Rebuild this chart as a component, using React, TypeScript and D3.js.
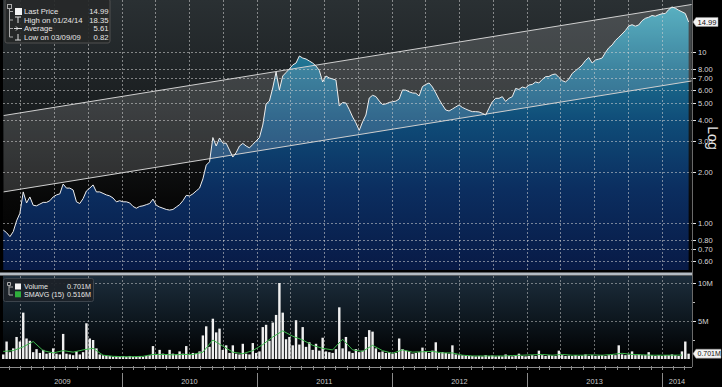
import { useEffect, useRef } from 'react'
import * as d3 from 'd3'

// price / volume sampled every 9 calendar days, starting 2009-02-14
const sampleStart = new Date(2009, 1, 14)
const sampleStepDays = 9
// the SMAVG line is read every 27 days from the same start
const smaStepDays = 27

const prices = [
  0.91, 0.878, 0.832, 0.89, 1.03, 1.14, 1.52, 1.31, 1.42, 1.27,
  1.26, 1.29, 1.32, 1.32, 1.35, 1.42, 1.46, 1.48, 1.69, 1.6,
  1.6, 1.56, 1.33, 1.3, 1.39, 1.54, 1.6, 1.67, 1.52, 1.52,
  1.49, 1.46, 1.44, 1.4, 1.33, 1.35, 1.33, 1.33, 1.31, 1.25,
  1.22, 1.25, 1.26, 1.28, 1.3, 1.38, 1.27, 1.24, 1.22, 1.2,
  1.19, 1.2, 1.24, 1.28, 1.35, 1.45, 1.44, 1.48, 1.54, 1.6,
  1.81, 2.18, 2.28, 3.16, 2.82, 3.14, 2.93, 2.93, 2.67, 2.43,
  2.58, 2.82, 2.92, 2.82, 2.75, 2.88, 3.02, 3.16, 3.74, 4.97,
  5.17, 6.16, 7.64, 6.0, 7.24, 7.59, 7.96, 8.4, 8.62, 9.48,
  9.22, 9.1, 8.86, 8.62, 8.28, 7.8, 6.68, 7.24, 7.05, 6.95,
  6.86, 4.83, 5.07, 5.03, 4.61, 4.17, 3.85, 3.48, 3.9, 4.28,
  5.38, 5.58, 5.49, 5.17, 4.93, 4.97, 5.07, 5.12, 5.16, 5.31,
  6.0, 5.98, 5.85, 5.76, 5.74, 5.53, 6.28, 6.46, 6.59, 6.24,
  5.76, 5.28, 4.9, 4.58, 4.52, 4.64, 4.77, 4.9, 4.74, 4.64,
  4.55, 4.48, 4.48, 4.46, 4.38, 4.28, 4.69, 5.12, 5.36, 5.36,
  5.48, 5.14, 5.36, 5.48, 6.12, 6.04, 6.24, 6.16, 6.41, 6.46,
  6.68, 6.59, 6.91, 7.17, 7.19, 7.37, 7.44, 7.11, 6.8, 6.68,
  6.95, 7.49, 7.78, 8.06, 8.4, 8.92, 9.29, 8.62, 8.98, 9.08,
  9.22, 9.93, 10.58, 10.99, 11.68, 12.19, 12.74, 13.36, 14.19, 14.44,
  14.16, 14.39, 15.24, 15.74, 15.96, 16.35, 16.19, 16.5, 16.73, 16.8,
  17.7, 18.35, 18.04, 17.56, 17.18, 16.8, 14.99,
]

// millions of shares
const volumes = [
  0.6, 2.3, 0.9, 1.4, 2.9, 2.3, 6.1, 2.7, 2.4, 0.9,
  1.3, 0.8, 1.2, 0.7, 0.8, 1.4, 0.7, 0.6, 3.3, 0.7,
  0.6, 0.5, 1.0, 0.6, 0.9, 4.7, 2.7, 2.5, 1.4, 0.6,
  0.5, 0.4, 0.4, 0.3, 0.4, 0.3, 0.4, 0.3, 0.4, 0.3,
  0.3, 0.4, 0.3, 0.4, 0.5, 1.7, 0.6, 1.2, 0.7, 0.6,
  1.2, 0.7, 0.6, 1.0, 0.7, 1.7, 0.6, 0.8, 0.7, 1.0,
  3.1, 4.3, 1.6, 5.3, 3.5, 4.0, 1.2, 1.8, 0.8, 1.8,
  0.7, 0.6, 2.0, 0.7, 0.6, 2.1, 0.8, 1.0, 4.2, 4.5,
  2.4, 4.8, 5.8, 10.0, 6.1, 2.6, 2.9, 1.8, 5.1, 1.9,
  4.2, 1.6, 2.2, 1.2, 2.0, 1.1, 2.8, 1.0, 0.9, 0.8,
  1.3, 6.8, 1.4, 2.9, 1.0, 0.8, 1.3, 0.9, 1.1, 2.9,
  3.8, 3.6, 1.4, 0.9, 1.0, 0.8, 0.9, 0.7, 0.8, 2.7,
  1.3, 1.1, 1.0, 0.7, 0.8, 0.9, 1.5, 1.0, 0.8, 1.1,
  2.2, 0.8, 0.9, 0.8, 0.7, 1.8, 0.6, 0.5, 0.5, 0.4,
  0.4, 0.4, 0.35, 0.4, 0.35, 0.5, 0.4, 0.45, 0.35, 0.4,
  0.35, 0.6, 0.4, 0.35, 0.4, 0.7, 0.4, 0.35, 0.4, 0.5,
  0.4, 1.1, 0.5, 0.4, 0.5, 0.45, 0.4, 1.1, 0.5, 0.4,
  0.45, 0.4, 0.5, 0.4, 0.45, 0.6, 0.4, 0.5, 0.4, 0.45,
  0.5, 0.4, 0.5, 0.6, 0.5, 1.8, 0.6, 0.5, 0.6, 1.0,
  0.5, 0.6, 0.5, 0.5, 0.9, 0.5, 0.4, 0.5, 0.4, 0.5,
  0.5, 0.6, 0.5, 0.4, 1.0, 2.3, 0.701,
]

// SMAVG (15) in millions, every 27 days
const smavg = [
  1.0, 1.1, 1.6, 2.3, 1.1, 0.8, 1.1, 0.9, 1.2, 1.4,
  0.5, 0.35, 0.3, 0.3, 0.35, 0.6, 0.6, 0.55, 0.6, 0.6,
  0.9, 2.5, 1.7, 0.9, 0.7, 1.1, 1.9, 2.9, 3.7, 3.0,
  2.5, 1.8, 1.4, 1.2, 2.6, 1.2, 1.0, 1.8, 1.1, 0.75,
  1.2, 0.9, 0.95, 1.0, 0.8, 0.8, 0.5, 0.4, 0.4, 0.4,
  0.4, 0.45, 0.5, 0.55, 0.6, 0.5, 0.6, 0.5, 0.5, 0.55,
  0.5, 0.6, 0.75, 0.6, 0.55, 0.5, 0.5, 0.5, 0.516,
]

// trend channel drawn on the log chart
const channelDates = [new Date(2009, 1, 15), new Date(2014, 2, 22)]
const channelUpper = [4.25, 18.96]
const channelLower = [1.52, 6.77]

const priceTicks = [0.6, 0.7, 0.8, 1, 2, 3, 4, 5, 6, 7, 8, 10]
const volumeTicks = [5, 10]
const volumeMinorTicks = [2.5, 7.5]
const years = [2009, 2010, 2011, 2012, 2013, 2014]

const priceLegend = [
  { label: 'Last Price', value: '14.99' },
  { label: 'High on 01/24/14', value: '18.35' },
  { label: 'Average', value: '5.61' },
  { label: 'Low on 03/09/09', value: '0.82' },
]
const volumeLegend = [
  { label: 'Volume', value: '0.701M', color: '#f4f4f4' },
  { label: 'SMAVG (15)', value: '0.516M', color: '#2fae3c' },
]
const lastPrice = 14.99
const lastVolume = 0.701

const FONT = "'Liberation Sans', Arial, sans-serif"

const App = () => {
  const svgRef = useRef<SVGSVGElement | null>(null)

  useEffect(() => {
    if (!svgRef.current) return
    const svg = d3.select(svgRef.current)
    svg.selectAll('*').remove()

    const W = 722
    const H = 387
    const plotL = 3
    const plotR = 692
    const priceBottom = 270
    const volTop = 276
    const volBase = 359
    const axisY = 367

    const series = prices.map((p, i) => ({
      date: d3.timeDay.offset(sampleStart, i * sampleStepDays),
      price: p,
      volume: volumes[i],
    }))
    const smaSeries = smavg.map((v, j) => ({
      date: d3.timeDay.offset(sampleStart, j * smaStepDays),
      value: v,
    }))

    const x = d3.scaleTime()
      .domain([new Date(2009, 0, 1), new Date(2014, 0, 1)])
      .range([-13, 662])
    const yP = d3.scaleLog().domain([1, 10]).range([223, 52])
    const yV = d3.scaleLinear().domain([0, 10]).range([volBase, 283])

    svg.append('rect').attr('width', W).attr('height', H).attr('fill', '#000')

    // gradients + clip
    const defs = svg.append('defs')
    const grad = (id: string, y1: number, y2: number, stops: [number, string][]) => {
      const g = defs.append('linearGradient')
        .attr('id', id)
        .attr('gradientUnits', 'userSpaceOnUse')
        .attr('x1', 0).attr('x2', 0).attr('y1', y1).attr('y2', y2)
      stops.forEach(([o, c]) => g.append('stop').attr('offset', o).attr('stop-color', c))
    }
    grad('bgGrad', 0, priceBottom, [[0, '#2a3033'], [0.4, '#1a1e20'], [0.75, '#070707'], [1, '#000']])
    grad('areaGrad', 0, priceBottom, [[0, '#40a8ba'], [0.25, '#1d7090'], [0.45, '#0f4c78'], [0.7, '#0b2e60'], [1, '#081a46']])
    grad('volGrad', volTop, volBase, [[0, '#1c2d3b'], [0.5, '#0e1820'], [1, '#000']])
    defs.append('clipPath').attr('id', 'priceClip')
      .append('rect').attr('x', plotL).attr('y', 0).attr('width', plotR - plotL).attr('height', priceBottom)

    // ---- price panel
    svg.append('rect')
      .attr('x', plotL).attr('y', 0).attr('width', plotR - plotL).attr('height', priceBottom)
      .attr('fill', 'url(#bgGrad)')

    const pricePanel = svg.append('g').attr('clip-path', 'url(#priceClip)')

    pricePanel.append('path')
      .datum(series)
      .attr('d', d3.area<any>().x((d) => x(d.date)).y0(priceBottom).y1((d) => yP(d.price)))
      .attr('fill', 'url(#areaGrad)')

    const channel = channelDates.map((d, i) => ({ date: d, up: channelUpper[i], lo: channelLower[i] }))
    pricePanel.append('path')
      .datum(channel)
      .attr('d', d3.area<any>().x((d) => x(d.date)).y0((d) => yP(d.lo)).y1((d) => yP(d.up)))
      .attr('fill', 'rgba(255,255,255,0.15)')

    const quarters = d3.timeMonth.every(3)!.range(new Date(2009, 0, 1), new Date(2014, 3, 1))
      .filter((d) => x(d) > plotL + 2 && x(d) < plotR - 2)

    // dotted grid, drawn over the fill
    const grid = svg.append('g')
      .attr('stroke', '#d4d4d4')
      .attr('stroke-opacity', 0.55)
      .attr('stroke-dasharray', '2,2')
      .attr('stroke-width', 1)
    priceTicks.forEach((t) => {
      grid.append('line')
        .attr('x1', plotL).attr('x2', plotR)
        .attr('y1', Math.round(yP(t)) + 0.5).attr('y2', Math.round(yP(t)) + 0.5)
    })
    quarters.forEach((q) => {
      grid.append('line')
        .attr('x1', Math.round(x(q)) + 0.5).attr('x2', Math.round(x(q)) + 0.5)
        .attr('y1', 0).attr('y2', priceBottom)
    })

    pricePanel.append('path').datum(channel)
      .attr('d', d3.line<any>().x((d) => x(d.date)).y((d) => yP(d.up)))
      .attr('fill', 'none').attr('stroke', '#cfcfcf').attr('stroke-width', 1)
    pricePanel.append('path').datum(channel)
      .attr('d', d3.line<any>().x((d) => x(d.date)).y((d) => yP(d.lo)))
      .attr('fill', 'none').attr('stroke', '#cfcfcf').attr('stroke-width', 1)

    pricePanel.append('path')
      .datum(series)
      .attr('d', d3.line<any>().x((d) => x(d.date)).y((d) => yP(d.price)))
      .attr('fill', 'none').attr('stroke', '#eeeeee').attr('stroke-width', 1)

    // price legend
    const pl = svg.append('g')
    pl.append('rect')
      .attr('x', 5).attr('y', -1).attr('width', 105).attr('height', 44).attr('rx', 2)
      .attr('fill', '#262828').attr('fill-opacity', 0.92).attr('stroke', '#505050')
    pl.append('rect').attr('x', 7.5).attr('y', 4.5).attr('width', 4).attr('height', 4)
      .attr('fill', 'none').attr('stroke', '#aaa')
    pl.append('line').attr('x1', 9.5).attr('x2', 9.5).attr('y1', 8.5).attr('y2', 37)
      .attr('stroke', '#aaa')
    priceLegend.forEach((item, i) => {
      const cy = 11.5 + i * 8.5
      pl.append('line').attr('x1', 9.5).attr('x2', 13).attr('y1', cy).attr('y2', cy).attr('stroke', '#aaa')
      if (i === 0) {
        pl.append('rect').attr('x', 15).attr('y', cy - 3.5).attr('width', 7).attr('height', 7).attr('fill', '#f4f4f4')
      } else if (i === 1) {
        pl.append('path').attr('d', `M15,${cy - 3}H21M18,${cy - 3}V${cy + 3}`).attr('stroke', '#ddd').attr('fill', 'none')
      } else if (i === 2) {
        pl.append('path').attr('d', `M14,${cy}H22M16,${cy - 2}L18,${cy}L16,${cy + 2}`).attr('stroke', '#ddd').attr('fill', 'none')
      } else {
        pl.append('path').attr('d', `M18,${cy - 3}V${cy + 3}M15,${cy + 3}H21`).attr('stroke', '#ddd').attr('fill', 'none')
      }
      pl.append('text').attr('x', 24).attr('y', cy).attr('dy', '0.35em')
        .attr('font-size', 7.7).attr('fill', '#e6e6e6').attr('font-family', FONT).text(item.label)
      pl.append('text').attr('x', 108.5).attr('y', cy).attr('dy', '0.35em').attr('text-anchor', 'end')
        .attr('font-size', 7.7).attr('fill', '#e6e6e6').attr('font-family', FONT).text(item.value)
    })

    // panel separator
    svg.append('rect').attr('x', 0).attr('y', 272.5).attr('width', plotR).attr('height', 3)
      .attr('fill', '#b4bcc4')

    // ---- volume panel
    svg.append('rect')
      .attr('x', plotL).attr('y', volTop).attr('width', plotR - plotL).attr('height', volBase - volTop)
      .attr('fill', 'url(#volGrad)')

    const vgrid = svg.append('g')
      .attr('stroke', '#d4d4d4')
      .attr('stroke-opacity', 0.5)
      .attr('stroke-dasharray', '2,2')
    volumeTicks.forEach((t) => {
      vgrid.append('line').attr('x1', plotL).attr('x2', plotR)
        .attr('y1', Math.round(yV(t)) + 0.5).attr('y2', Math.round(yV(t)) + 0.5)
    })
    quarters.forEach((q) => {
      vgrid.append('line')
        .attr('x1', Math.round(x(q)) + 0.5).attr('x2', Math.round(x(q)) + 0.5)
        .attr('y1', volTop).attr('y2', volBase)
    })

    svg.append('g')
      .selectAll('rect')
      .data(series)
      .enter()
      .append('rect')
      .attr('x', (d) => x(d.date) - 1.2)
      .attr('width', 2.4)
      .attr('y', (d) => yV(d.volume))
      .attr('height', (d) => volBase - yV(d.volume))
      .attr('fill', '#f0f0f0')

    svg.append('path')
      .datum(smaSeries)
      .attr('d', d3.line<any>().x((d) => x(d.date)).y((d) => yV(d.value)))
      .attr('fill', 'none').attr('stroke', '#3cb84c').attr('stroke-width', 1)

    const vl = svg.append('g')
    vl.append('rect')
      .attr('x', 3.5).attr('y', 278.5).attr('width', 90).attr('height', 23).attr('rx', 2)
      .attr('fill', '#1c2228').attr('fill-opacity', 0.92).attr('stroke', '#3c444c')
    vl.append('path').attr('d', 'M7.5,282.5h3v3h-3zM9,285.5V295H13M9,287H13').attr('stroke', '#aaa').attr('fill', 'none')
    volumeLegend.forEach((item, i) => {
      const cy = 286.5 + i * 7.8
      vl.append('rect').attr('x', 15).attr('y', cy - 3).attr('width', 6).attr('height', 6).attr('fill', item.color)
      vl.append('text').attr('x', 24).attr('y', cy).attr('dy', '0.35em')
        .attr('font-size', 7.2).attr('fill', '#e6e6e6').attr('font-family', FONT).text(item.label)
      vl.append('text').attr('x', 91).attr('y', cy).attr('dy', '0.35em').attr('text-anchor', 'end')
        .attr('font-size', 7.2).attr('fill', '#e6e6e6').attr('font-family', FONT).text(item.value)
    })

    // ---- time axis
    svg.append('line').attr('x1', 0).attr('x2', plotR).attr('y1', axisY + 0.5).attr('y2', axisY + 0.5)
      .attr('stroke', '#8c8c8c')
    d3.timeMonth.range(new Date(2009, 0, 1), new Date(2014, 3, 1)).forEach((m) => {
      const mx = Math.round(x(m)) + 0.5
      if (mx < plotL || mx > plotR) return
      svg.append('line').attr('x1', mx).attr('x2', mx).attr('y1', axisY - 1).attr('y2', axisY + 3)
        .attr('stroke', '#8c8c8c')
    })
    years.forEach((yr) => {
      const x0 = Math.max(plotL, x(new Date(yr, 0, 1)))
      const x1 = Math.min(plotR, x(new Date(yr + 1, 0, 1)))
      if (yr > 2009) {
        svg.append('line').attr('x1', Math.round(x0) + 0.5).attr('x2', Math.round(x0) + 0.5)
          .attr('y1', 373).attr('y2', H).attr('stroke', '#8a8a8a')
      }
      svg.append('text')
        .attr('x', (x0 + x1) / 2).attr('y', 384)
        .attr('text-anchor', 'middle')
        .attr('font-size', 7.4).attr('fill', '#c8c8c8').attr('font-family', FONT)
        .text(String(yr))
    })

    // ---- right axis
    svg.append('line').attr('x1', plotR + 0.5).attr('x2', plotR + 0.5).attr('y1', 0).attr('y2', axisY)
      .attr('stroke', '#6a6a6a')
    priceTicks.forEach((t) => {
      const ty = Math.round(yP(t)) + 0.5
      svg.append('line').attr('x1', plotR + 1).attr('x2', plotR + 4).attr('y1', ty).attr('y2', ty)
        .attr('stroke', '#e0e0e0')
      svg.append('text').attr('x', plotR + 6).attr('y', ty).attr('dy', '0.35em')
        .attr('font-size', 7.6).attr('fill', '#d8d8d8').attr('font-family', FONT)
        .text(t === 10 ? '10' : d3.format('.2f')(t))
    })
    svg.append('text')
      .attr('transform', `translate(708,138) rotate(90)`)
      .attr('text-anchor', 'middle')
      .attr('font-size', 14).attr('fill', '#e8e8e8').attr('font-family', FONT)
      .text('Log')

    volumeTicks.forEach((t) => {
      const ty = Math.round(yV(t)) + 0.5
      svg.append('line').attr('x1', plotR + 1).attr('x2', plotR + 4).attr('y1', ty).attr('y2', ty)
        .attr('stroke', '#e0e0e0')
      svg.append('text').attr('x', plotR + 6).attr('y', ty).attr('dy', '0.35em')
        .attr('font-size', 7.6).attr('fill', '#d8d8d8').attr('font-family', FONT)
        .text(`${t}M`)
    })
    volumeMinorTicks.forEach((t) => {
      const ty = Math.round(yV(t)) + 0.5
      svg.append('line').attr('x1', plotR + 1).attr('x2', plotR + 3).attr('y1', ty).attr('y2', ty)
        .attr('stroke', '#bbb')
    })

    // last value markers
    const marker = (yy: number, w: number, label: string, fs: number) => {
      const g = svg.append('g')
      g.append('path')
        .attr('d', `M${plotR + 1},${yy}L${plotR + 4},${yy - 4.5}H${plotR + 4 + w}V${yy + 4.5}H${plotR + 4}Z`)
        .attr('fill', '#f4f4f4').attr('stroke', '#999').attr('stroke-width', 0.5)
      g.append('text').attr('x', plotR + 5.5).attr('y', yy).attr('dy', '0.35em')
        .attr('font-size', fs).attr('fill', '#111').attr('font-family', FONT).text(label)
    }
    marker(yP(lastPrice), 22, d3.format('.2f')(lastPrice), 7.6)
    marker(yV(lastVolume), 25, `${d3.format('.3f')(lastVolume)}M`, 7)
  }, [])

  return (
    <svg
      ref={svgRef}
      width={722}
      height={387}
      style={{ position: 'absolute', left: 0, top: 0, display: 'block', background: '#000' }}
    />
  )
}

export default App
